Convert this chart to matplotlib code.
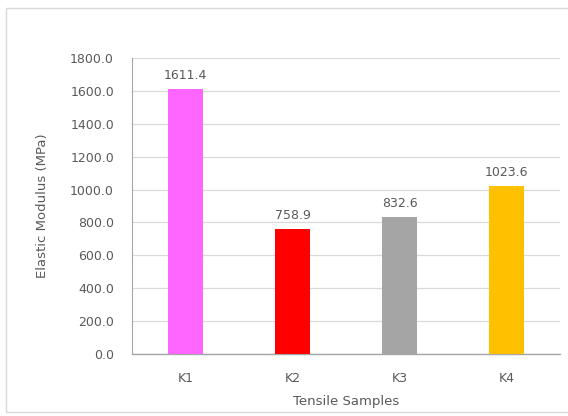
import matplotlib
matplotlib.use("Agg")
import matplotlib.pyplot as plt
from matplotlib.patches import Rectangle

samples = ["K1", "K2", "K3", "K4"]
modulus = [1611.4, 758.9, 832.6, 1023.6]
bar_colors = ["#FF66FF", "#FF0000", "#A5A5A5", "#FFC000"]
y_ticks = [0, 200, 400, 600, 800, 1000, 1200, 1400, 1600, 1800]

plt.rcParams["font.family"] = ["DejaVu Sans"]
text_color = "#595959"

fig = plt.figure(figsize=(5.68, 4.16), dpi=100)
fig.patch.set_facecolor("white")

# chart frame
fig.patches.append(Rectangle((6 / 568, 1 - 412 / 416), 600 / 568, 404 / 416,
                             transform=fig.transFigure, fill=False,
                             edgecolor="#D9D9D9", linewidth=1.0))

ax = fig.add_axes([132 / 568, 1 - 354 / 416, 428 / 568, 296 / 416])
x = range(len(samples))
bars = ax.bar(x, modulus, width=0.32, color=bar_colors, zorder=3)

ax.set_xlim(-0.5, len(samples) - 0.5)
ax.set_ylim(0, 1800)
ax.set_yticks(y_ticks)
ax.set_yticklabels([f"{v:.1f}" for v in y_ticks])
ax.set_xticks(list(x))
ax.set_xticklabels(samples)

ax.grid(axis="y", color="#D9D9D9", linewidth=0.9, zorder=0)
for side in ["top", "right"]:
    ax.spines[side].set_visible(False)
ax.spines["left"].set_color("#A6A6A6")
ax.spines["bottom"].set_color("#A6A6A6")
ax.spines["bottom"].set_linewidth(1.0)
ax.tick_params(axis="both", length=0, colors=text_color, labelsize=9)
ax.tick_params(axis="y", pad=13)
ax.tick_params(axis="x", pad=13)

for b, v in zip(bars, modulus):
    ax.annotate(f"{v:.1f}", (b.get_x() + b.get_width() / 2, v),
                xytext=(0, 5), textcoords="offset points",
                ha="center", va="bottom", fontsize=9, color=text_color)

ax.set_xlabel("Tensile Samples", fontsize=9.5, color=text_color, labelpad=7)
ax.set_ylabel("Elastic Modulus (MPa)", fontsize=9.5, color=text_color, labelpad=15)

fig.savefig("out.png", dpi=100, facecolor="white")
